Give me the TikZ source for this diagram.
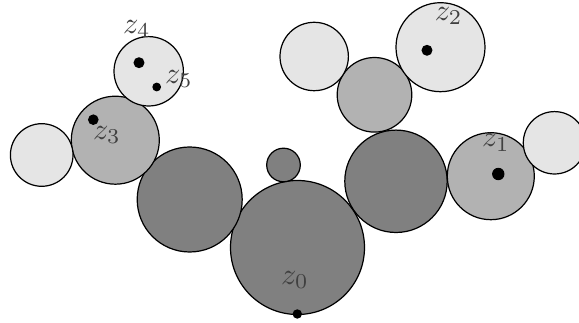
\documentclass[tikz,border=0pt]{standalone}
\begin{document}
\begin{tikzpicture}[x=0.33pt,y=-0.33pt]
  \useasboundingbox (0,0) rectangle (579,323);
  \foreach \x/\y/\r/\c in {297.5/247.5/67/black!50,283.5/165/16.8/black!50,189.7/199.5/52.5/black!50,396/181.3/51.2/black!50,490.8/176.2/43.5/black!30,374.5/94.8/37.3/black!30,115.3/140.2/44/black!30,41.7/155/31.3/black!10,148.7/71.3/34.7/black!10,314.2/56.5/34.2/black!10,440.5/47.2/44.5/black!10,554.5/142.8/31.2/black!10}
    {
      \filldraw[fill=\c] (\x,\y) circle (\r);
    }
  \foreach \x/\y/\r in {297.3/314/4.7,498.3/174/6.2,427/50.3/5.5,93.3/119.7/5.3,139/62.7/5.5,156.7/87/4.4}
    \fill (\x,\y) circle (\r);
  \begin{scope}[text=black!75]
    \node (z0) at (295,280) {$z_0$};
    \node (z1) at (496,142.5) {$z_1$};
    \node (z2) at (448.7,16) {$z_2$};
    \node (z3) at (107,135) {$z_3$};
    \node (z4) at (137,29) {$z_4$};
    \node (z5) at (179,79) {$z_5$};
  \end{scope}
\end{tikzpicture}
\end{document}
